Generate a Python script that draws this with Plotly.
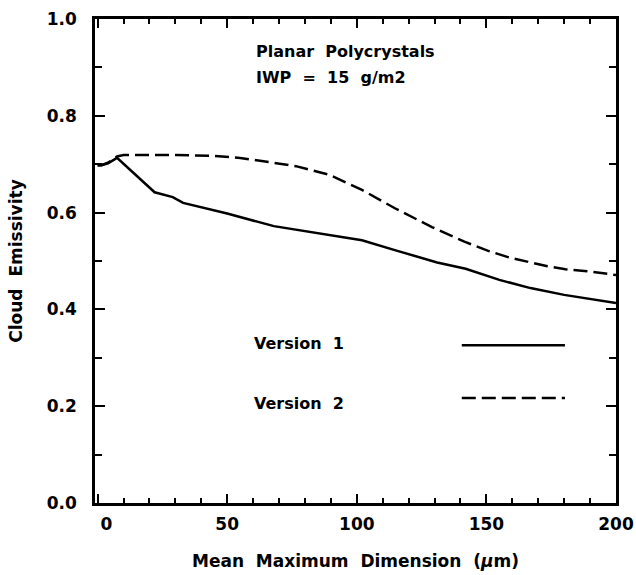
import plotly.graph_objects as go

# Version 1 (solid)
v1_x = [0, 1.5, 4, 7.5, 22, 29, 33, 50, 68, 85, 102, 115, 131, 142, 155, 167, 180, 200]
v1_y = [0.698, 0.698, 0.702, 0.713, 0.642, 0.632, 0.620, 0.598, 0.572, 0.558, 0.543, 0.522, 0.497, 0.484, 0.461, 0.444, 0.430, 0.413]

# Version 2 (dashed)
v2_x = [0, 1.5, 4, 7.5, 10, 30, 45, 55, 64, 76.5, 89.4, 102, 114.7, 129, 141.5, 150.7, 158.3, 166, 173.6, 180.5, 188.9, 200]
v2_y = [0.698, 0.698, 0.703, 0.716, 0.719, 0.719, 0.717, 0.713, 0.706, 0.696, 0.678, 0.647, 0.609, 0.570, 0.540, 0.521, 0.508, 0.498, 0.489, 0.483, 0.479, 0.471]

x_ticks = [0, 50, 100, 150, 200]
x_ticktext = ["\u00a0\u00a0\u00a00", "50", "100", "150", "200"]
y_ticks = [0.0, 0.2, 0.4, 0.6, 0.8, 1.0]
y_ticktext = ["0.0", "0.2", "0.4", "0.6", "0.8", "1.0"]

FONT = "DejaVu Sans"
ink = "black"
SP = "\u00a0\u00a0"
DASH = "14px,6px"

fig = go.Figure()
fig.add_trace(go.Scatter(x=v1_x, y=v1_y, mode="lines",
                         line=dict(color=ink, width=2.5), showlegend=False))
fig.add_trace(go.Scatter(x=v2_x, y=v2_y, mode="lines",
                         line=dict(color=ink, width=2.5, dash=DASH), showlegend=False))

# legend keys (text left, line sample right)
fig.add_shape(type="line", xref="paper", yref="paper", x0=0.704, x1=0.902, y0=0.326, y1=0.326,
              line=dict(color=ink, width=2.5))
fig.add_shape(type="line", xref="paper", yref="paper", x0=0.704, x1=0.902, y0=0.217, y1=0.217,
              line=dict(color=ink, width=2.5, dash=DASH))

ann_font = dict(family=FONT, size=16, color=ink, weight="bold")
fig.add_annotation(text="Version" + SP + "1", xref="paper", yref="paper", x=0.301, y=0.329,
                   xanchor="left", yanchor="middle", showarrow=False, font=ann_font)
fig.add_annotation(text="Version" + SP + "2", xref="paper", yref="paper", x=0.301, y=0.205,
                   xanchor="left", yanchor="middle", showarrow=False, font=ann_font)
fig.add_annotation(text="Planar" + SP + "Polycrystals", xref="paper", yref="paper", x=0.305, y=0.932,
                   xanchor="left", yanchor="middle", showarrow=False, font=ann_font)
fig.add_annotation(text="IWP" + SP + "=" + SP + "15" + SP + "g/m2", xref="paper", yref="paper", x=0.305, y=0.880,
                   xanchor="left", yanchor="middle", showarrow=False, font=ann_font)

fig.update_layout(
    width=636, height=575,
    margin=dict(l=95, r=20, t=19, b=72),
    paper_bgcolor="white", plot_bgcolor="white",
    font=dict(family=FONT, color=ink, size=17, weight="bold"),
)
fig.update_xaxes(
    range=[-1, 200], tickvals=x_ticks, ticktext=x_ticktext, ticks="inside", ticklen=9, tickwidth=2,
    tickcolor=ink, showline=True, linecolor=ink, linewidth=2.5, mirror="allticks",
    showgrid=False, zeroline=False, ticklabelstandoff=4, automargin=False,
    tickfont=dict(family=FONT, size=17, weight="bold"),
    minor=dict(dtick=10, ticks="inside", ticklen=5, tickwidth=2, tickcolor=ink, showgrid=False),
    title=dict(text="Mean" + SP + "Maximum" + SP + "Dimension" + SP + "(<i>μ</i>m)",
               font=dict(family=FONT, size=17, weight="bold"), standoff=22),
)
fig.update_yaxes(
    range=[0, 1], tickvals=y_ticks, ticktext=y_ticktext, ticks="inside", ticklen=10, tickwidth=2,
    tickcolor=ink, showline=True, linecolor=ink, linewidth=2.5, mirror="allticks",
    showgrid=False, zeroline=False, ticklabelstandoff=12, automargin=False,
    tickfont=dict(family=FONT, size=17, weight="bold"),
    minor=dict(dtick=0.1, ticks="inside", ticklen=7, tickwidth=2, tickcolor=ink, showgrid=False),
    title=dict(text="Cloud" + SP + "Emissivity", font=dict(family=FONT, size=17, weight="bold"), standoff=20),
)

fig.write_html("out.html")
